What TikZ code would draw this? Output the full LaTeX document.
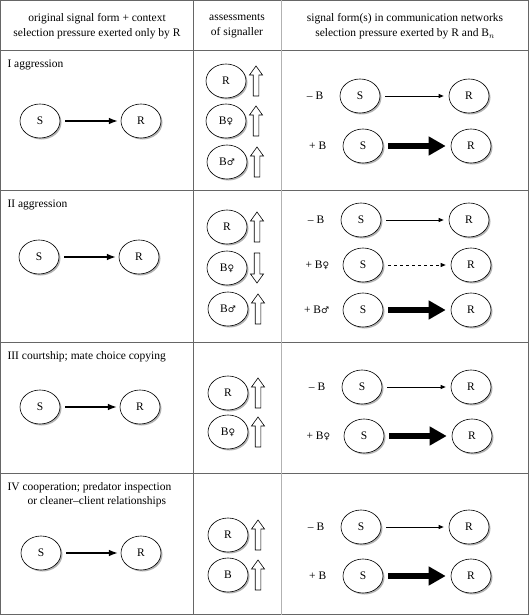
\documentclass[tikz,border=0pt]{standalone}
\usepackage{fontspec}
\setmainfont{Liberation Serif}
\newfontfamily\gsym{DejaVu Sans}
\usetikzlibrary{shapes.geometric,arrows.meta,positioning,shadows}
\newcommand{\fem}{{\gsym\small ♀}}
\newcommand{\mal}{{\gsym\small ♂}}
% hollow arrow up / down at a point
\newcommand{\hollowup}[2]{\draw[line width=.6pt] (#1-2.8,#2+15)--(#1-2.8,#2-6)--(#1-6.5,#2-6)--(#1,#2-15)--(#1+6.5,#2-6)--(#1+2.8,#2-6)--(#1+2.8,#2+15)--cycle;}
\newcommand{\hollowdown}[2]{\draw[line width=.6pt] (#1-2.8,#2-15)--(#1-2.8,#2+6)--(#1-6.5,#2+6)--(#1,#2+15)--(#1+6.5,#2+6)--(#1+2.8,#2+6)--(#1+2.8,#2-15)--cycle;}

\begin{document}
\begin{tikzpicture}[x=1pt,y=-1pt,font=\fontsize{11.5}{15}\selectfont,>=Latex]
  \tikzstyle{e}=[draw,ellipse,fill=white,line width=.6pt,inner sep=0pt,minimum width=40pt,minimum height=34pt,
    drop shadow={shadow xshift=1.5pt,shadow yshift=-1.5pt,fill=black!60}]
  \tikzstyle{old}=[->,line width=1.3pt,shorten <=5pt,shorten >=3pt]
  \tikzstyle{thin}=[-{Triangle[length=5pt,width=4pt]},line width=.8pt,shorten <=5pt,shorten >=5pt]
  \tikzstyle{thick}=[-{Triangle[length=17pt,width=18pt]},line width=6pt,shorten <=5pt,shorten >=5pt]
  \useasboundingbox (0,0) rectangle (529,615);

  % table
  \draw[gray!80!black,line width=.9pt] (.5,.5) rectangle (528.5,614.5);
  \foreach \y in {50,190,342,473}
    \draw[gray!80!black,line width=.9pt] (0,\y) -- (529,\y);
  \draw[gray!80!black,line width=.9pt] (193,0) -- (193,615);
  \draw[gray!60,line width=.9pt] (281,0) -- (281,615);

  % header
  \node[align=center] (h1) at (97,26) {original signal form + context\\selection pressure exerted only by R};
  \node[align=center] (h2) at (237,26) {assessments\\of signaller};
  \node[align=center] (h3) at (405,26) {signal form(s) in communication networks\\selection pressure exerted by R and B$_n$};

  % row I
  \node[anchor=west] (t1) at (4,65) {I aggression};
  \node[e] (s1) at (40,121) {S};
  \node[e] (r1) at (141,121) {R};
  \draw[old] (s1) -- (r1);
  \node[e] (a1) at (226,81) {R};
  \node[e] (a2) at (226,121) {B\fem};
  \node[e] (a3) at (227,162) {B\mal};
  \hollowup{256}{81} \hollowup{256}{121} \hollowup{257}{162}
  \node[e] (s11) at (360,96) {S};
  \node[e] (r11) at (469,96) {R};
  \node[left=13pt of s11] (l11) {-- B};
  \draw[thin] (s11) -- (r11);
  \node[e] (s12) at (363,146) {S};
  \node[e] (r12) at (471,146) {R};
  \node[left=13pt of s12] (l12) {+ B};
  \draw[thick] (s12) -- (r12);

  % row II
  \node[anchor=west] (t2) at (4,205) {II aggression};
  \node[e] (s2) at (39,257) {S};
  \node[e] (r2) at (139,257) {R};
  \draw[old] (s2) -- (r2);
  \node[e] (b1) at (227,227) {R};
  \node[e] (b2) at (227,268) {B\fem};
  \node[e] (b3) at (228,309) {B\mal};
  \hollowup{257}{227} \hollowdown{257}{268} \hollowup{258}{309}
  \node[e] (s21) at (361,220) {S};
  \node[e] (r21) at (469,220) {R};
  \node[left=13pt of s21] (l21) {-- B};
  \draw[thin] (s21) -- (r21);
  \node[e] (s22) at (363,265) {S};
  \node[e] (r22) at (471,265) {R};
  \node[left=10pt of s22] (l22) {+ B\fem};
  \draw[thin,dashed] (s22) -- (r22);
  \node[e] (s23) at (363,310) {S};
  \node[e] (r23) at (471,310) {R};
  \node[left=10pt of s23] (l23) {+ B\mal};
  \draw[thick] (s23) -- (r23);

  % row III
  \node[anchor=west] (t3) at (4,357) {III courtship; mate choice copying};
  \node[e] (s3) at (40,407) {S};
  \node[e] (r3) at (140,407) {R};
  \draw[old] (s3) -- (r3);
  \node[e] (c1) at (228,393) {R};
  \node[e] (c2) at (228,432) {B\fem};
  \hollowup{258}{393} \hollowup{258}{432}
  \node[e] (s31) at (362,387) {S};
  \node[e] (r31) at (471,387) {R};
  \node[left=13pt of s31] (l31) {-- B};
  \draw[thin] (s31) -- (r31);
  \node[e] (s32) at (364,436) {S};
  \node[e] (r32) at (472,436) {R};
  \node[left=10pt of s32] (l32) {+ B\fem};
  \draw[thick] (s32) -- (r32);

  % row IV
  \node[anchor=west] (t4) at (4,488) {IV cooperation; predator inspection};
  \node[anchor=west] (t4b) at (24,502) {or cleaner--client relationships};
  \node[e] (s4) at (41,553) {S};
  \node[e] (r4) at (141,553) {R};
  \draw[old] (s4) -- (r4);
  \node[e] (d1) at (228,535) {R};
  \node[e] (d2) at (228,575) {B};
  \hollowup{258}{535} \hollowup{258}{575}
  \node[e] (s41) at (361,527) {S};
  \node[e] (r41) at (469,527) {R};
  \node[left=13pt of s41] (l41) {-- B};
  \draw[thin] (s41) -- (r41);
  \node[e] (s42) at (363,576) {S};
  \node[e] (r42) at (471,576) {R};
  \node[left=13pt of s42] (l42) {+ B};
  \draw[thick] (s42) -- (r42);
\end{tikzpicture}
\end{document}
